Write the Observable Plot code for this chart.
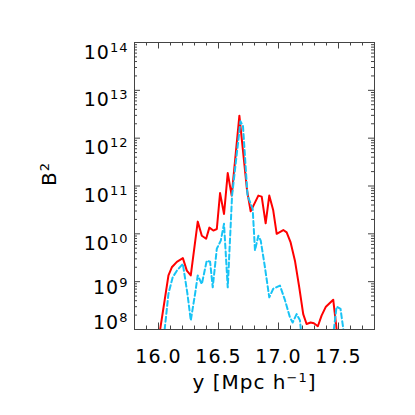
<!DOCTYPE html>
<html><head><meta charset="utf-8">
<script src="https://cdn.jsdelivr.net/npm/d3@7"></script>
<script src="https://cdn.jsdelivr.net/npm/@observablehq/plot@0.6"></script>
<style>body{margin:0;background:#fff}</style>
</head><body><div id="chart"></div>
<script>
// Solid red curve: position y [Mpc/h] and B^2
const redPos = [15.993,16.083,16.111,16.153,16.203,16.236,16.269,16.327,16.361,16.397,16.424,16.457,16.486,16.513,16.546,16.577,16.610,16.674,16.738,16.768,16.832,16.860,16.893,16.923,16.956,16.985,17.040,17.068,17.101,17.137,17.173,17.206,17.234,17.268,17.295,17.328,17.359,17.395,17.456,17.495];
const redB2 = [4.6e7,1.35e9,2.0e9,2.6e9,3.1e9,1.7e9,1.35e9,1.8e10,9.1e9,7.9e9,1.35e10,1.17e10,1.26e10,7.1e10,2.6e10,1.86e11,6.3e10,2.95e12,8.1e10,2.95e10,6.3e10,6.0e10,1.66e10,6.3e10,3.1e10,1.0e10,1.2e10,1.07e10,6.6e9,2.75e9,7.6e8,2.1e8,1.3e8,1.4e8,1.35e8,1.17e8,1.95e8,3.0e8,4.2e8,5.9e7];
// Dashed cyan curve
const cyanPos = [16.037,16.083,16.118,16.153,16.203,16.241,16.269,16.305,16.327,16.361,16.402,16.430,16.452,16.486,16.519,16.546,16.577,16.602,16.613,16.683,16.704,16.742,16.785,16.804,16.832,16.852,16.887,16.923,16.956,17.012,17.054,17.095,17.118,17.151,17.179,17.199,17.320,17.445,17.484,17.517,17.559];
const cyanB2 = [4.6e7,5.6e8,1.23e9,1.7e9,2.35e9,5.6e8,1.55e8,5.6e8,1.35e9,8.9e8,2.75e9,2.6e9,7.6e8,4.9e9,7.2e9,1.62e10,7.6e8,1.62e10,6.3e10,2.25e12,1.8e12,6.3e10,3.3e10,4.5e9,9.1e9,7.2e9,2.0e9,4.7e8,7.1e8,8.3e8,4.1e8,1.8e8,1.4e8,2.1e8,1.55e8,4.6e7,2.2e7,4.6e7,3.0e8,2.7e8,4.6e7];

const xMajorTicks = [16.0, 16.5, 17.0, 17.5];
const xMinorTicks = [15.8,15.9,16.0,16.1,16.2,16.3,16.4,16.5,16.6,16.7,16.8,16.9,17.0,17.1,17.2,17.3,17.4,17.5,17.6,17.7,17.8];
const yExponents = [8, 9, 10, 11, 12, 13, 14];
const xTitle = "y [Mpc h^{−1}]";
const yTitle = "B^{2}";

const W = 415, H = 415, mL = 134, mR = 41, mT = 42, mB = 86;
const pw = W - mL - mR, ph = H - mT - mB;
const red = redPos.map((p, i) => ({p, b: redB2[i]}));
const cyan = cyanPos.map((p, i) => ({p, b: cyanB2[i]}));
const yMajor = yExponents.map(e => 10 ** e);
const yMinor = yExponents.slice(0, -1).flatMap(e => [2,3,4,5,6,7,8,9].map(k => k * 10 ** e));
const axisColor = "#444";
const lab = e => "10^{" + e + "}";

const chart = Plot.plot({
  width: W, height: H,
  marginLeft: mL, marginRight: mR, marginTop: mT, marginBottom: mB,
  x: {domain: [15.8, 17.8], axis: null},
  y: {type: "log", domain: [1e8, 1e14], axis: null},
  style: {fontFamily: "DejaVu Sans", fontSize: "18px", color: "#000", background: "#fff", letterSpacing: "1px"},
  marks: [
    Plot.line(red, {x: "p", y: "b", stroke: "#ff0000", strokeWidth: 2, clip: true}),
    Plot.line(cyan, {x: "p", y: "b", stroke: "#18c3f5", strokeWidth: 2, strokeDasharray: "5,3", clip: true}),
    Plot.frame({stroke: axisColor}),
    Plot.tickX(xMinorTicks, {x: d => d, insetTop: ph - 3.5, stroke: axisColor}),
    Plot.tickX(xMinorTicks, {x: d => d, insetBottom: ph - 3.5, stroke: axisColor}),
    Plot.tickX(xMajorTicks, {x: d => d, insetTop: ph - 6.5, stroke: axisColor}),
    Plot.tickX(xMajorTicks, {x: d => d, insetBottom: ph - 6.5, stroke: axisColor}),
    Plot.tickY(yMinor, {y: d => d, insetRight: pw - 3, stroke: axisColor}),
    Plot.tickY(yMinor, {y: d => d, insetLeft: pw - 3, stroke: axisColor}),
    Plot.tickY(yMajor, {y: d => d, insetRight: pw - 6, stroke: axisColor}),
    Plot.tickY(yMajor, {y: d => d, insetLeft: pw - 6, stroke: axisColor}),
    Plot.text(xMajorTicks, {x: d => d, text: d => d.toFixed(1), frameAnchor: "bottom", lineAnchor: "bottom", dy: 33, fontSize: 19}),
    Plot.text(yMajor.filter(v => v >= 1e10), {y: d => d, text: d => lab(Math.round(Math.log10(d))), frameAnchor: "left", textAnchor: "end", lineAnchor: "bottom", dx: -6, dy: 16, fontSize: 19}),
    Plot.text(yMajor.filter(v => v === 1e9), {y: d => d, text: d => lab(Math.round(Math.log10(d))), frameAnchor: "left", textAnchor: "end", lineAnchor: "bottom", dx: -6, dy: 12, fontSize: 19}),
    Plot.text(yMajor.filter(v => v === 1e8), {y: d => d, text: d => lab(Math.round(Math.log10(d))), frameAnchor: "left", textAnchor: "end", lineAnchor: "bottom", dx: -6, dy: -1, fontSize: 19}),
    Plot.text([xTitle], {text: d => d, frameAnchor: "bottom", lineAnchor: "bottom", dy: 59, fontSize: 20}),
    Plot.text([yTitle], {text: d => d, frameAnchor: "left", lineAnchor: "bottom", rotate: -90, dx: -79, fontSize: 20})
  ]
});

// render "^{...}" as real superscript tspans
d3.select(chart).selectAll("text").each(function() {
  const s = this.textContent;
  if (!s.includes("^{")) return;
  const parts = s.split(/(\^\{[^}]*\})/).filter(t => t.length);
  const sel = d3.select(this);
  sel.text(null);
  let raised = false;
  for (const part of parts) {
    const m = part.match(/^\^\{([^}]*)\}$/);
    if (m) {
      sel.append("tspan").attr("font-size", 13).attr("dy", -7).text(m[1]);
      raised = true;
    } else {
      const t = sel.append("tspan").text(part);
      if (raised) { t.attr("dy", 7); raised = false; }
    }
  }
});
document.getElementById("chart").appendChild(chart);
</script>
</body></html>
